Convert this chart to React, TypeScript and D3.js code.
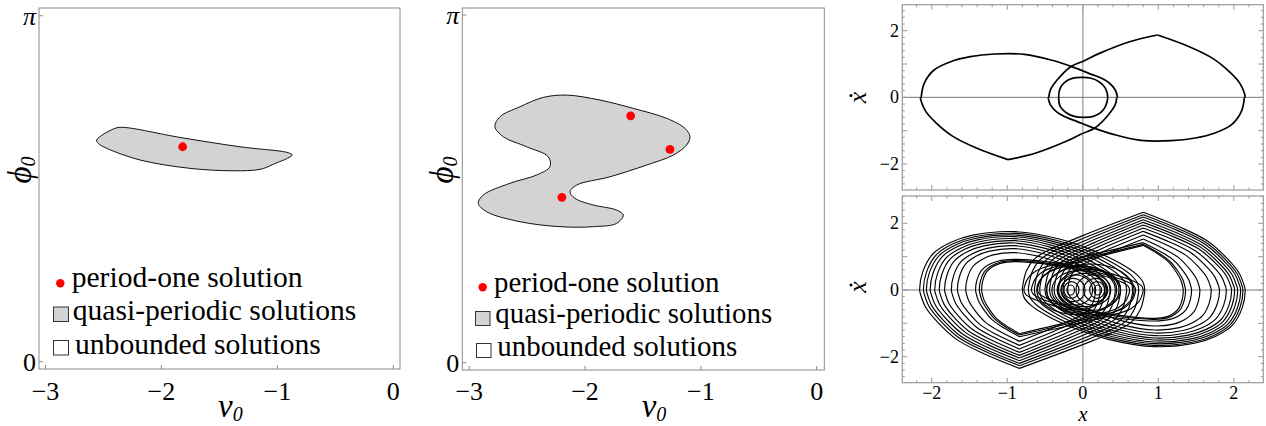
import React from 'react';
import * as d3 from 'd3';

type Pt = [number, number];

const W = 1266;
const H = 426;

// ---- left panels: (v0, phi0) regions ----
const blobA: Pt[] = [
  [-2.559, 2.013], [-2.401, 2.119], [-2.329, 2.128], [-1.841, 2.037], [-1.323, 1.952],
  [-0.907, 1.898], [-0.872, 1.877], [-1.036, 1.792], [-1.149, 1.747], [-1.381, 1.734],
  [-1.754, 1.756], [-2.185, 1.832], [-2.472, 1.938], [-2.545, 1.983],
];
const dotsA: Pt[] = [[-1.817, 1.952]];

const blobB: Pt[] = [
  [-2.159, 2.418], [-1.871, 2.373], [-1.584, 2.298], [-1.295, 2.208], [-1.137, 2.117],
  [-1.094, 2.042], [-1.123, 1.967], [-1.238, 1.876], [-1.468, 1.786], [-1.785, 1.68],
  [-2.073, 1.605], [-2.13, 1.545], [-2.087, 1.485], [-1.929, 1.425], [-1.727, 1.379],
  [-1.67, 1.334], [-1.727, 1.259], [-1.929, 1.229], [-2.217, 1.229], [-2.562, 1.274],
  [-2.85, 1.364], [-2.922, 1.44], [-2.879, 1.515], [-2.649, 1.621], [-2.418, 1.696],
  [-2.303, 1.771], [-2.318, 1.861], [-2.504, 1.951], [-2.706, 2.042], [-2.778, 2.132],
  [-2.735, 2.222], [-2.562, 2.313], [-2.361, 2.397],
];
const dotsB: Pt[] = [[-1.606, 2.231], [-1.267, 1.928], [-2.2, 1.494]];

const vTicks = [-3, -2, -1, 0];
const phiTicks = [0, Math.PI];
const phiTickLabels = ['0', 'π'];
const legendLabels = ['period-one solution', 'quasi-periodic solutions', 'unbounded solutions'];

// ---- top right: period-one orbit ----
const leftUpperArc: Pt[] = [
  [-2.14, 0], [-2.1, 0.42], [-1.97, 0.82], [-1.75, 1.07], [-1.49, 1.22], [-1.17, 1.3],
  [-0.77, 1.29], [-0.42, 1.12], [-0.12, 0.9], [0.08, 0.72], [0.22, 0.6], [0.35, 0.43],
  [0.43, 0.22], [0.46, 0],
];
const rightLowerArc: Pt[] = [
  [2.14, 0], [2.1, -0.42], [1.97, -0.82], [1.75, -1.07], [1.49, -1.22], [1.17, -1.3],
  [0.77, -1.29], [0.42, -1.12], [0.12, -0.9], [-0.08, -0.72], [-0.22, -0.6], [-0.35, -0.43],
  [-0.43, -0.22], [-0.46, 0],
];
const rightUpperArc: Pt[] = [
  [-0.45, 0], [-0.43, 0.22], [-0.34, 0.52], [-0.16, 0.92], [0.02, 1.1], [0.22, 1.32],
  [0.62, 1.67], [0.99, 1.87],
];
const rightCuspToTip: Pt[] = [
  [0.99, 1.87], [1.41, 1.52], [1.72, 1.17], [1.94, 0.77], [2.08, 0.42], [2.14, 0.12], [2.15, 0],
];
const leftLowerArc: Pt[] = [
  [0.45, 0], [0.43, -0.22], [0.34, -0.52], [0.16, -0.92], [-0.02, -1.1], [-0.22, -1.32],
  [-0.62, -1.67], [-0.99, -1.87],
];
const leftCuspToTip: Pt[] = [
  [-0.99, -1.87], [-1.41, -1.52], [-1.72, -1.17], [-1.94, -0.77], [-2.08, -0.42], [-2.14, -0.12], [-2.15, 0],
];
const innerLoop: Pt[] = [
  [0.33, 0], [0.3, 0.27], [0.22, 0.46], [0.1, 0.58], [-0.02, 0.6], [-0.14, 0.57], [-0.24, 0.45],
  [-0.3, 0.27], [-0.32, 0], [-0.3, -0.27], [-0.22, -0.46], [-0.1, -0.58], [0.02, -0.6],
  [0.14, -0.57], [0.24, -0.45], [0.3, -0.27],
];

// ---- bottom right: quasi-periodic orbit, loops ----
const leftLoopTips = [-2.16, -2.11, -2.07, -2.02, -1.96, -1.9, -1.83, -1.74, -1.66, -1.55, -1.42, -1.37, -1.34];
const leftLoopTops = [1.75, 1.7, 1.65, 1.6, 1.54, 1.48, 1.41, 1.33, 1.24, 1.12, 0.92, 0.88, 0.85];
const leftLoopCusps = [-2.35, -2.27, -2.2, -2.12, -2.04, -1.96, -1.87, -1.77, -1.66, -1.54, -1.4, -1.35, -1.31];
const leftLoopEnds = [0.82, 0.74, 0.66, 0.58, 0.5, 0.43, 0.36, 0.29, 0.23, 0.17, 0.8, 0.7, 0.62];

const rightLoopTips = [2.15, 2.12, 2.09, 2.05, 2.01, 1.97, 1.9, 1.81, 1.7, 1.55, 1.44, 1.36, 1.33];
const rightLoopBottoms = [-1.7, -1.66, -1.61, -1.56, -1.5, -1.44, -1.37, -1.29, -1.2, -1.08, -0.93, -0.88, -0.85];
const rightLoopCusps = [2.33, 2.26, 2.19, 2.11, 2.03, 1.95, 1.86, 1.76, 1.65, 1.53, 1.42, 1.37, 1.34];
const rightLoopEnds = [-0.8, -0.72, -0.64, -0.57, -0.5, -0.44, -0.38, -0.32, -0.26, -0.2, -0.78, -0.68, -0.6];

const centerCx = [-0.16, -0.15, -0.13, -0.1, 0.2, 0.19, 0.17, 0.14, 0.02, -0.05, 0.08, 0.0, -0.08, 0.1];
const centerRx = [0.05, 0.1, 0.16, 0.23, 0.05, 0.1, 0.16, 0.23, 0.3, 0.36, 0.42, 0.48, 0.53, 0.58];
const centerRy = [0.15, 0.25, 0.35, 0.45, 0.15, 0.25, 0.35, 0.45, 0.5, 0.58, 0.62, 0.7, 0.74, 0.78];

const phaseXTicks = [-2, -1, 0, 1, 2];
const phaseYTicks = [-2, 0, 2];

const SERIF = '"Liberation Serif", "Times New Roman", serif';

// one lobe: cusp -> tip -> crest -> inner crossing -> back to cusp
function lobe(tip: number, crest: number, cusp: number, end: number, xCrest: number, xCusp: number): Pt[] {
  const s0 = xCrest - tip, s1 = end - xCrest, s2 = end - xCusp, s3 = xCusp - tip;
  return [
    [xCusp, cusp],
    [xCusp - 0.36 * s3, 0.81 * cusp],
    [xCusp - 0.63 * s3, 0.63 * cusp],
    [xCusp - 0.82 * s3, 0.41 * cusp],
    [xCusp - 0.94 * s3, 0.22 * cusp],
    [xCusp - 0.99 * s3, 0.06 * cusp],
    [tip, 0],
    [tip + 0.034 * s0, 0.32 * crest],
    [tip + 0.145 * s0, 0.63 * crest],
    [tip + 0.33 * s0, 0.82 * crest],
    [tip + 0.56 * s0, 0.94 * crest],
    [xCrest, crest],
    [xCrest + 0.35 * s1, 0.87 * crest],
    [xCrest + 0.6 * s1, 0.68 * crest],
    [xCrest + 0.8 * s1, 0.47 * crest],
    [xCrest + 0.93 * s1, 0.28 * crest],
    [xCrest + 0.988 * s1, 0.13 * crest],
    [end, 0],
    [end - 0.008 * s2, 0.1 * cusp],
    [end - 0.035 * s2, 0.25 * cusp],
    [end - 0.1 * s2, 0.4 * cusp],
    [end - 0.2 * s2, 0.5 * cusp],
    [end - 0.5 * s2, 0.7 * cusp],
    [xCusp, cusp],
  ];
}

type RegionCfg = {
  left: number; right: number; top: number; bottom: number;
  vDomain: [number, number]; phiDomain: [number, number];
  blob: Pt[]; dots: Pt[];
  font: number;
  legendDot: Pt; legendText: Pt[]; legendSq: [number, number, number, number][];
  vLabelX: number; phiLabelX: number;
};

const panelA: RegionCfg = {
  left: 39, right: 400, top: 8, bottom: 369,
  vDomain: [-3.056, 0.058], phiDomain: [-0.066, 3.212],
  blob: blobA, dots: dotsA, font: 29.6,
  legendDot: [60.3, 283.3],
  legendText: [[71.7, 287], [72.7, 320], [75, 354]],
  legendSq: [[53.5, 307, 15, 14.5], [53.5, 340.5, 15, 14.5]],
  vLabelX: 218, phiLabelX: 31,
};
const panelB: RegionCfg = {
  left: 462.3, right: 824.3, top: 8, bottom: 370,
  vDomain: [-3.06, 0.066], phiDomain: [-0.066, 3.205],
  blob: blobB, dots: dotsB, font: 28.9,
  legendDot: [482.7, 287.3],
  legendText: [[494, 291.7], [495.3, 323.3], [497.3, 356]],
  legendSq: [[475.5, 311.5, 14.5, 14], [476.5, 343.5, 14.5, 14]],
  vLabelX: 641.7, phiLabelX: 453,
};

function RegionPanel({ cfg }: { cfg: RegionCfg }) {
  const x = d3.scaleLinear().domain(cfg.vDomain).range([cfg.left, cfg.right]);
  const y = d3.scaleLinear().domain(cfg.phiDomain).range([cfg.bottom, cfg.top]);
  const area = d3.line<Pt>().x(d => x(d[0])).y(d => y(d[1])).curve(d3.curveCatmullRomClosed.alpha(0.5));
  return (
    <g>
      <path d={area(cfg.blob) || ''} fill="#d3d3d3" stroke="#111" strokeWidth={1} />
      {cfg.dots.map((d, i) => (
        <circle key={i} cx={x(d[0])} cy={y(d[1])} r={4.4} fill="#ff0000" />
      ))}
      <rect x={cfg.left} y={cfg.top} width={cfg.right - cfg.left} height={cfg.bottom - cfg.top}
        fill="none" stroke="#8a8a8a" strokeWidth={1} />
      {vTicks.map(v => (
        <g key={v}>
          <line x1={x(v)} x2={x(v)} y1={cfg.bottom} y2={cfg.bottom - 4} stroke="#8a8a8a" />
          <text x={x(v)} y={400} textAnchor="middle" fontFamily={SERIF} fontSize={26}>
            {v < 0 ? '\u2212' + Math.abs(v) : String(v)}
          </text>
        </g>
      ))}
      {phiTicks.map((p, i) => (
        <g key={i}>
          <line x1={cfg.left} x2={cfg.left + 4} y1={y(p)} y2={y(p)} stroke="#8a8a8a" />
          <text x={cfg.left - 3} y={y(p) + 9} textAnchor="end" fontFamily={SERIF} fontSize={26}
            fontStyle={i === 1 ? 'italic' : 'normal'}>
            {phiTickLabels[i]}
          </text>
        </g>
      ))}
      <text x={cfg.vLabelX} y={417} fontFamily={SERIF} fontSize={33} fontStyle="italic">
        v<tspan fontSize={20} dy={4}>0</tspan>
      </text>
      <text transform={`translate(${cfg.phiLabelX},170) rotate(-90)`} textAnchor="middle"
        fontFamily={SERIF} fontSize={33} fontStyle="italic">
        ϕ<tspan fontSize={20} dy={4}>0</tspan>
      </text>
      <circle cx={cfg.legendDot[0]} cy={cfg.legendDot[1]} r={4.2} fill="#ff0000" />
      <rect x={cfg.legendSq[0][0]} y={cfg.legendSq[0][1]} width={cfg.legendSq[0][2]} height={cfg.legendSq[0][3]}
        fill="#d3d3d3" stroke="#333" strokeWidth={1} />
      <rect x={cfg.legendSq[1][0]} y={cfg.legendSq[1][1]} width={cfg.legendSq[1][2]} height={cfg.legendSq[1][3]}
        fill="#fff" stroke="#333" strokeWidth={1} />
      {legendLabels.map((t, i) => (
        <text key={t} x={cfg.legendText[i][0]} y={cfg.legendText[i][1]} fontFamily={SERIF} fontSize={cfg.font}>
          {t}
        </text>
      ))}
    </g>
  );
}

type PhaseCfg = {
  top: number; bottom: number; yDomain: [number, number];
  showX: boolean; yLabelY: number;
};

const phaseLeft = 902.3;
const phaseRight = 1263.3;

function PhasePanel({ cfg, children }: { cfg: PhaseCfg; children: (x: d3.ScaleLinear<number, number>, y: d3.ScaleLinear<number, number>) => React.ReactNode }) {
  const x = d3.scaleLinear().domain([-2.39, 2.39]).range([phaseLeft, phaseRight]);
  const y = d3.scaleLinear().domain(cfg.yDomain).range([cfg.bottom, cfg.top]);
  const minorX = d3.range(-2.2, 2.3, 0.2).map(v => Math.round(v * 10) / 10);
  const minorY = d3.range(Math.ceil(cfg.yDomain[0] * 5) / 5, cfg.yDomain[1], 0.2).map(v => Math.round(v * 10) / 10);
  const tick = '#999';
  return (
    <g>
      <line x1={x(0)} x2={x(0)} y1={cfg.top} y2={cfg.bottom} stroke="#aaa" strokeWidth={1.5} />
      <line x1={phaseLeft} x2={phaseRight} y1={y(0)} y2={y(0)} stroke="#777" strokeWidth={1} />
      {children(x, y)}
      <rect x={phaseLeft} y={cfg.top} width={phaseRight - phaseLeft} height={cfg.bottom - cfg.top}
        fill="none" stroke={tick} strokeWidth={1.2} />
      {minorX.map(v => {
        const len = Number.isInteger(v) ? 5 : 2.5;
        return (
          <g key={'x' + v}>
            <line x1={x(v)} x2={x(v)} y1={cfg.bottom} y2={cfg.bottom - len} stroke={tick} />
            <line x1={x(v)} x2={x(v)} y1={cfg.top} y2={cfg.top + len} stroke={tick} />
          </g>
        );
      })}
      {minorY.map(v => {
        const len = Number.isInteger(v) ? 5 : 2.5;
        return (
          <g key={'y' + v}>
            <line x1={phaseLeft} x2={phaseLeft + len} y1={y(v)} y2={y(v)} stroke={tick} />
            <line x1={phaseRight} x2={phaseRight - len} y1={y(v)} y2={y(v)} stroke={tick} />
          </g>
        );
      })}
      {phaseYTicks.map(v => (
        <text key={v} x={899} y={y(v) + 6} textAnchor="end" fontFamily={SERIF} fontSize={18}>
          {v < 0 ? '\u2212' + Math.abs(v) : String(v)}
        </text>
      ))}
      {cfg.showX && phaseXTicks.map(v => (
        <text key={v} x={x(v)} y={398.5} textAnchor="middle" fontFamily={SERIF} fontSize={18}>
          {v < 0 ? '\u2212' + Math.abs(v) : String(v)}
        </text>
      ))}
      {cfg.showX && (
        <text x={x(0)} y={420.5} textAnchor="middle" fontFamily={SERIF} fontSize={21} fontStyle="italic">x</text>
      )}
      <g transform={`translate(866,${cfg.yLabelY}) rotate(-90)`}>
        <text x={0} y={0} textAnchor="middle" fontFamily={SERIF} fontSize={26} fontStyle="italic">x</text>
        <circle cx={2} cy={-15} r={1.5} fill="#000" />
      </g>
    </g>
  );
}

const topCfg: PhaseCfg = { top: 4.7, bottom: 190, yDomain: [-2.78, 2.78], showX: false, yLabelY: 97.5 };
const botCfg: PhaseCfg = { top: 196, bottom: 382.7, yDomain: [-2.78, 2.82], showX: true, yLabelY: 287 };

export default function App() {
  const openPath = (x: d3.ScaleLinear<number, number>, y: d3.ScaleLinear<number, number>) =>
    d3.line<Pt>().x(d => x(d[0])).y(d => y(d[1])).curve(d3.curveCatmullRom.alpha(0.5));
  const closedPath = (x: d3.ScaleLinear<number, number>, y: d3.ScaleLinear<number, number>) =>
    d3.line<Pt>().x(d => x(d[0])).y(d => y(d[1])).curve(d3.curveCatmullRomClosed.alpha(0.5));

  return (
    <div style={{ position: 'absolute', left: 0, top: 0, width: W, height: H, background: '#fff' }}>
      <svg width={W} height={H} viewBox={`0 0 ${W} ${H}`}>
        <rect width={W} height={H} fill="#fff" />
        <RegionPanel cfg={panelA} />
        <RegionPanel cfg={panelB} />
        <PhasePanel cfg={topCfg}>
          {(x, y) => {
            const ln = openPath(x, y);
            const cl = closedPath(x, y);
            const arcs = [leftUpperArc, rightLowerArc, rightUpperArc, rightCuspToTip, leftLowerArc, leftCuspToTip];
            return (
              <g fill="none" stroke="#000" strokeWidth={1.7} strokeLinejoin="round">
                {arcs.map((a, i) => <path key={i} d={ln(a) || ''} />)}
                <path d={cl(innerLoop) || ''} />
              </g>
            );
          }}
        </PhasePanel>
        <PhasePanel cfg={botCfg}>
          {(x, y) => {
            const ln = openPath(x, y);
            return (
              <g fill="none" stroke="#000" strokeWidth={1.15}>
                {leftLoopTips.map((t, i) => (
                  <path key={'l' + i} d={ln(lobe(t, leftLoopTops[i], leftLoopCusps[i], leftLoopEnds[i], -0.9, -0.84)) || ''} />
                ))}
                {rightLoopTips.map((t, i) => (
                  <path key={'r' + i} d={ln(lobe(t, rightLoopBottoms[i], rightLoopCusps[i], rightLoopEnds[i], 0.95, 0.8)) || ''} />
                ))}
                {centerCx.map((c, i) => (
                  <ellipse key={'c' + i} cx={x(c)} cy={y(0)} rx={x(c + centerRx[i]) - x(c)} ry={y(0) - y(centerRy[i])} />
                ))}
              </g>
            );
          }}
        </PhasePanel>
      </svg>
    </div>
  );
}
